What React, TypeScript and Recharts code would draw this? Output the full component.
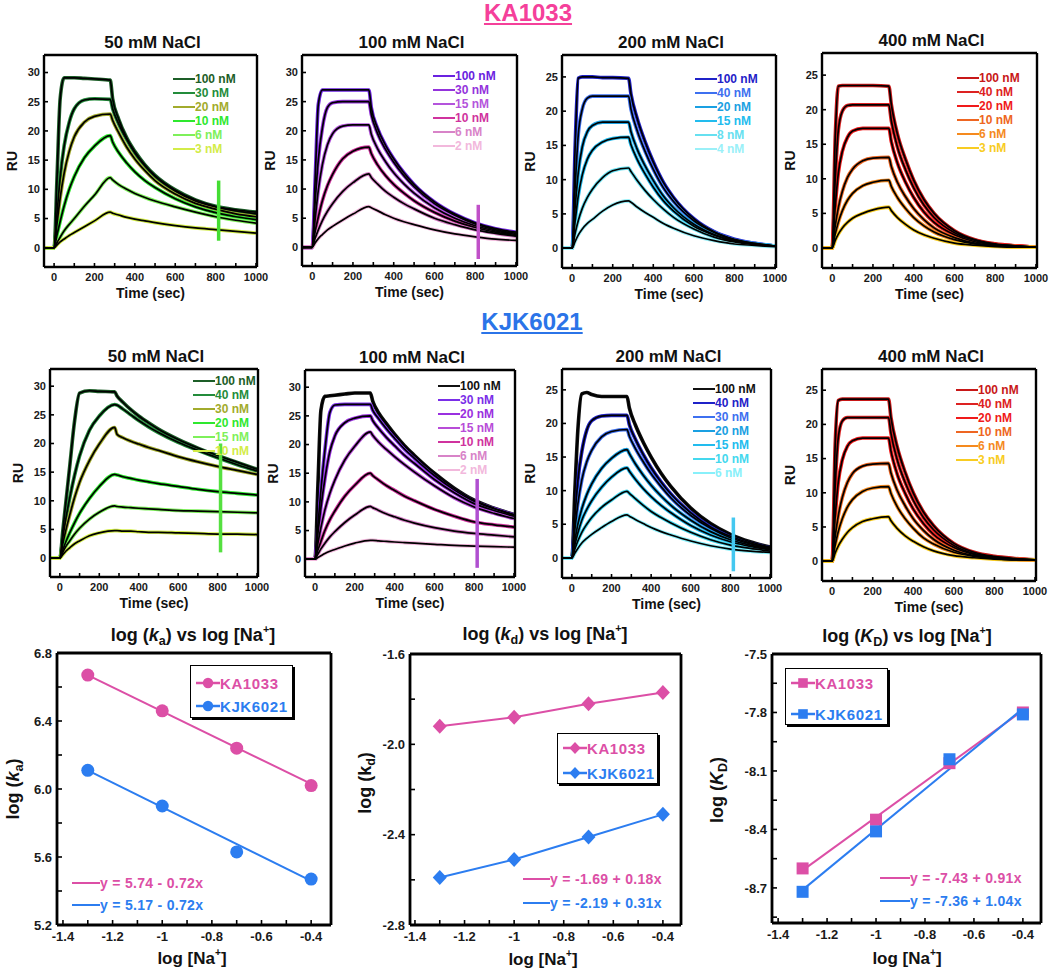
import React from "react"
import { LineChart, Line, XAxis, YAxis, ReferenceLine, Legend, ComposedChart, Scatter } from "recharts"

const FONT = '"Liberation Sans", Arial, Helvetica, sans-serif'
const PINK = "#dc4fa6"
const BLUE = "#2c7df0"

// shared time grid of the sensorgrams (sec)
const time = [-50, 0, 15, 30, 50, 75, 100, 150, 200, 278, 290, 320, 360, 400, 450, 500, 600, 700, 800, 900, 1000]
const timeTicks = [0, 100, 200, 300, 400, 500, 600, 700, 800, 900, 1000]
const ruTicks30 = [0, 5, 10, 15, 20, 25, 30]
const ruTicks25 = [0, 5, 10, 15, 20, 25]

// ---- KA1033 ----
const ka50Conc = ["100 nM", "30 nM", "20 nM", "10 nM", "6 nM", "3 nM"]
const ka50RU = [
  [0, 0, 12.5, 25.5, 29.1, 29.1, 29.1, 29.0, 28.9, 28.7, 25.5, 22.0, 18.8, 16.5, 14.2, 12.4, 9.9, 8.2, 7.1, 6.5, 6.1],
  [0, 0, 6.0, 12.0, 17.5, 21.5, 23.8, 25.3, 25.5, 25.4, 23.8, 21.2, 18.5, 16.2, 14.0, 12.2, 9.7, 8.0, 7.0, 6.3, 5.8],
  [0, 0, 4.3, 8.5, 12.8, 16.5, 19.0, 21.5, 22.5, 22.9, 21.8, 19.7, 17.2, 15.2, 13.2, 11.5, 9.2, 7.6, 6.6, 5.8, 5.3],
  [0, 0, 2.3, 4.5, 7.2, 10.0, 12.2, 15.4, 17.4, 19.2, 18.1, 16.3, 14.5, 13.0, 11.5, 10.3, 8.4, 7.0, 6.0, 5.3, 4.8],
  [0, 0, 0.9, 1.8, 2.9, 4.0, 5.0, 7.1, 9.0, 12.0, 11.6, 10.8, 10.0, 9.3, 8.6, 8.0, 7.0, 6.1, 5.3, 4.7, 4.2],
  [0, 0, 0.5, 1.0, 1.5, 2.1, 2.6, 3.6, 4.6, 6.1, 5.9, 5.6, 5.2, 4.9, 4.6, 4.3, 3.8, 3.4, 3.1, 2.8, 2.5],
]
const ka50Spike = [1.2, 11.5]

const ka100Conc = ["100 nM", "30 nM", "15 nM", "10 nM", "6 nM", "2 nM"]
const ka100RU = [
  [0, 0, 12, 24.5, 27, 27, 27, 27, 27, 27, 24, 20.5, 17.5, 15.2, 12.8, 10.8, 7.8, 5.7, 4.2, 3.2, 2.6],
  [0, 0, 8, 15, 20.5, 24, 24.8, 25, 25, 25, 22.8, 19.6, 16.8, 14.6, 12.3, 10.4, 7.5, 5.5, 4.0, 3.0, 2.4],
  [0, 0, 5, 9.8, 14.2, 17.6, 19.5, 20.8, 21, 21, 19.4, 17, 14.7, 12.8, 10.9, 9.3, 6.8, 5.0, 3.7, 2.8, 2.2],
  [0, 0, 2.8, 5.2, 8, 10.6, 12.5, 15.2, 16.5, 17.2, 16.1, 14.2, 12.3, 10.8, 9.3, 8.0, 6.0, 4.5, 3.4, 2.6, 2.0],
  [0, 0, 1.6, 3.0, 4.6, 6.2, 7.5, 9.6, 11.1, 12.6, 12.0, 10.9, 9.6, 8.6, 7.5, 6.6, 5.0, 3.9, 3.0, 2.4, 1.9],
  [0, 0, 0.8, 1.5, 2.2, 3.0, 3.6, 4.7, 5.7, 7.0, 6.8, 6.3, 5.6, 5.0, 4.4, 3.9, 3.0, 2.3, 1.8, 1.4, 1.2],
]
const ka100Spike = [-2, 7.3]

const ka200Conc = ["100 nM", "40 nM", "20 nM", "15 nM", "8 nM", "4 nM"]
const ka200RU = [
  [0, 0, 15, 24.8, 25, 25, 25, 24.9, 24.9, 24.8, 22.5, 19, 15.5, 12.6, 9.6, 7.4, 4.3, 2.4, 1.3, 0.7, 0.3],
  [0, 0, 9, 16.5, 20.3, 21.9, 22.2, 22.2, 22.2, 22.2, 20.3, 17.2, 14.1, 11.5, 8.8, 6.8, 4.0, 2.3, 1.2, 0.7, 0.3],
  [0, 0, 6, 11, 14.8, 17, 17.9, 18.4, 18.4, 18.4, 17, 14.5, 12, 9.9, 7.6, 5.9, 3.5, 2, 1.1, 0.6, 0.3],
  [0, 0, 4, 7.6, 10.7, 13, 14.3, 15.5, 16, 16.2, 15.1, 13, 10.8, 8.9, 6.9, 5.4, 3.2, 1.9, 1, 0.6, 0.3],
  [0, 0, 2.2, 4, 5.8, 7.4, 8.6, 10.3, 11.3, 11.7, 11.2, 9.9, 8.4, 7.1, 5.7, 4.5, 2.8, 1.6, 0.9, 0.5, 0.3],
  [0, 0, 1, 1.9, 2.8, 3.6, 4.2, 5.4, 6.3, 6.9, 6.7, 6, 5.2, 4.5, 3.6, 2.9, 1.8, 1.1, 0.6, 0.4, 0.2],
]
const ka200Spike = [-3, 4.5]

const ka400Conc = ["100 nM", "40 nM", "20 nM", "10 nM", "6 nM", "3 nM"]
const ka400RU = [
  [0, 0, 16, 23.4, 23.5, 23.5, 23.5, 23.5, 23.5, 23.4, 20.8, 16.5, 12.8, 9.8, 7, 5, 2.5, 1.2, 0.6, 0.3, 0.1],
  [0, 0, 10, 17, 19.8, 20.6, 20.7, 20.7, 20.7, 20.7, 18.4, 14.6, 11.3, 8.7, 6.2, 4.4, 2.2, 1.1, 0.5, 0.3, 0.1],
  [0, 0, 6, 10.8, 14, 16, 16.9, 17.3, 17.3, 17.3, 15.4, 12.3, 9.5, 7.3, 5.2, 3.7, 1.9, 0.9, 0.5, 0.3, 0.1],
  [0, 0, 3.2, 5.8, 8.2, 10.2, 11.4, 12.6, 13, 13.1, 11.8, 9.5, 7.4, 5.7, 4.1, 2.9, 1.5, 0.7, 0.4, 0.2, 0.1],
  [0, 0, 2, 3.7, 5.4, 6.9, 7.9, 9, 9.5, 9.8, 8.9, 7.3, 5.7, 4.4, 3.2, 2.3, 1.2, 0.6, 0.3, 0.2, 0.1],
  [0, 0, 1.1, 2, 2.9, 3.7, 4.3, 5, 5.5, 5.9, 5.4, 4.4, 3.4, 2.6, 1.9, 1.4, 0.7, 0.4, 0.2, 0.1, 0.1],
]
const ka400Spike = [-3, 3.6]

// ---- KJK6021 ----
const kjk50Conc = ["100 nM", "40 nM", "30 nM", "20 nM", "15 nM", "10 nM"]
const kjk50RU = [
  [0, 0, 4.8, 9.6, 16, 24, 28.8, 29.2, 29.1, 29.0, 28.3, 27.2, 25.9, 24.8, 23.6, 22.5, 20.7, 19.2, 17.9, 16.7, 15.5],
  [0, 0, 3.5, 6.8, 10.5, 14.5, 17.8, 22.3, 24.8, 26.8, 26.7, 26.0, 25.0, 24.0, 22.9, 21.9, 20.2, 18.8, 17.5, 16.3, 15.2],
  [0, 0, 2.5, 4.8, 7.5, 10.6, 13.2, 17, 19.9, 22.8, 21.6, 21, 20.4, 19.9, 19.3, 18.8, 17.7, 16.8, 16, 15.3, 14.6],
  [0, 0, 1.4, 2.8, 4.4, 6.2, 7.8, 10.4, 12.5, 14.6, 14.5, 14.2, 13.9, 13.6, 13.3, 13, 12.5, 12, 11.6, 11.3, 11],
  [0, 0, 1, 2, 3, 4.2, 5.2, 6.8, 8, 9.1, 9, 8.9, 8.8, 8.7, 8.6, 8.5, 8.3, 8.2, 8.1, 8, 7.9],
  [0, 0, 0.6, 1.2, 1.8, 2.5, 3, 3.9, 4.4, 4.8, 4.8, 4.7, 4.7, 4.6, 4.5, 4.5, 4.4, 4.3, 4.2, 4.2, 4.1],
]
const kjk50Spike = [1, 20]

const kjk100Conc = ["100 nM", "30 nM", "20 nM", "15 nM", "10 nM", "6 nM", "2 nM"]
const kjk100RU = [
  [0, 0, 13, 26, 28.4, 28.5, 28.6, 28.8, 29, 29, 27.6, 25.5, 23.6, 21.8, 19.8, 18.1, 15, 12.4, 10.3, 8.9, 7.8],
  [0, 0, 6, 12, 19, 25.6, 26.9, 27, 27, 27, 26, 24.5, 22.7, 21.1, 19.2, 17.6, 14.6, 12.1, 10.1, 8.8, 7.7],
  [0, 0, 4.5, 9, 14, 18.8, 21.5, 23.8, 24.6, 25, 24.2, 22.8, 21.2, 19.8, 18.1, 16.7, 13.9, 11.6, 9.7, 8.5, 7.5],
  [0, 0, 2.8, 5.5, 8.6, 11.5, 13.8, 17.3, 19.7, 22.2, 21.6, 20.4, 19.1, 17.9, 16.5, 15.2, 12.8, 10.7, 9.1, 8, 7.1],
  [0, 0, 1.6, 3.1, 5, 6.9, 8.4, 11, 12.9, 15, 14.6, 13.8, 12.8, 12, 11, 10.2, 8.7, 7.5, 6.5, 6, 5.6],
  [0, 0, 0.9, 1.8, 2.8, 3.9, 4.8, 6.4, 7.7, 9.2, 9, 8.5, 7.9, 7.4, 6.8, 6.3, 5.5, 4.9, 4.5, 4.2, 3.9],
  [0, 0, 0.3, 0.6, 1, 1.4, 1.7, 2.3, 2.8, 3.3, 3.3, 3.2, 3.1, 3, 2.9, 2.8, 2.6, 2.4, 2.3, 2.2, 2.1],
]
const kjk100Spike = [-1.5, 14]

const kjk200Conc = ["100 nM", "40 nM", "30 nM", "20 nM", "15 nM", "10 nM", "6 nM"]
const kjk200RU = [
  [0, 0, 10, 19, 24.4, 24.6, 24.3, 24, 24, 24, 22.3, 19.8, 17.2, 15, 12.6, 10.6, 7.4, 5.1, 3.5, 2.4, 1.6],
  [0, 0, 6, 11.5, 15.8, 19, 20.4, 21.1, 21.2, 21.2, 19.8, 17.7, 15.4, 13.4, 11.3, 9.5, 6.7, 4.6, 3.2, 2.2, 1.5],
  [0, 0, 4.2, 8, 11.6, 14.3, 16, 18, 18.8, 19.1, 18.1, 16.3, 14.3, 12.5, 10.6, 8.9, 6.3, 4.4, 3, 2.1, 1.4],
  [0, 0, 2.6, 5, 7.3, 9.4, 11, 13.3, 14.8, 16.1, 15.5, 14, 12.3, 10.8, 9.2, 7.8, 5.6, 3.9, 2.7, 1.9, 1.3],
  [0, 0, 1.9, 3.7, 5.6, 7.2, 8.5, 10.5, 12, 13.4, 12.9, 11.7, 10.3, 9.1, 7.8, 6.7, 4.8, 3.4, 2.4, 1.7, 1.2],
  [0, 0, 1.3, 2.5, 3.8, 5, 6, 7.5, 8.6, 9.9, 9.6, 8.8, 7.8, 6.9, 6, 5.2, 3.8, 2.7, 1.9, 1.4, 1],
  [0, 0, 0.7, 1.4, 2.2, 2.9, 3.5, 4.5, 5.4, 6.4, 6.2, 5.7, 5.1, 4.5, 3.9, 3.4, 2.5, 1.8, 1.3, 1, 0.8],
]
const kjk200Spike = [-2, 6]

const kjk400Conc = ["100 nM", "40 nM", "20 nM", "10 nM", "6 nM", "3 nM"]
const kjk400RU = [
  [0, 0, 17, 23.5, 23.7, 23.7, 23.7, 23.7, 23.7, 23.7, 21, 16.8, 13, 10, 7.2, 5.2, 2.6, 1.3, 0.7, 0.4, 0.2],
  [0, 0, 11, 18, 20.5, 21, 21, 21, 21, 21, 18.7, 14.9, 11.5, 8.9, 6.4, 4.6, 2.3, 1.1, 0.6, 0.3, 0.2],
  [0, 0, 6.5, 11.5, 14.8, 16.8, 17.6, 18, 18, 18, 16.1, 12.8, 9.9, 7.6, 5.5, 3.9, 2, 1, 0.5, 0.3, 0.2],
  [0, 0, 3.6, 6.6, 9.3, 11.5, 12.8, 13.9, 14.2, 14.3, 12.9, 10.4, 8.1, 6.2, 4.5, 3.2, 1.6, 0.8, 0.4, 0.3, 0.2],
  [0, 0, 2.3, 4.3, 6.2, 7.9, 9, 10.2, 10.7, 10.9, 9.9, 8, 6.2, 4.8, 3.4, 2.5, 1.3, 0.7, 0.4, 0.2, 0.2],
  [0, 0, 1.2, 2.2, 3.2, 4.2, 4.9, 5.8, 6.2, 6.5, 5.9, 4.8, 3.7, 2.9, 2.1, 1.5, 0.8, 0.5, 0.3, 0.2, 0.2],
]
const kjk400Spike = [-3, 4]

// ---- rate constants vs log [Na+] ----
const logNa = [-1.3, -1, -0.7, -0.4]
const fitX = [-1.3, -0.4]
const kaKA1033 = [6.67, 6.46, 6.24, 6.02]
const kaKJK6021 = [6.11, 5.9, 5.63, 5.47]
const kaFitKA1033 = [6.67, 6.03]
const kaFitKJK6021 = [6.11, 5.46]
const kdKA1033 = [-1.92, -1.88, -1.82, -1.77]
const kdKJK6021 = [-2.59, -2.51, -2.41, -2.31]
const KDKA1033 = [-8.6, -8.35, -8.06, -7.8]
const KDKJK6021 = [-8.72, -8.41, -8.04, -7.81]
const KDFitKA1033 = [-8.61, -7.79]
const KDFitKJK6021 = [-8.71, -7.78]
const naTicks = [-1.4, -1.3, -1.2, -1.1, -1, -0.9, -0.8, -0.7, -0.6, -0.5, -0.4]
const naMajor = [-1.4, -1.2, -1, -0.8, -0.6, -0.4]
const kaTicks = [5.2, 5.4, 5.6, 5.8, 6.0, 6.2, 6.4, 6.6, 6.8]
const kaMajor = [5.2, 5.6, 6.0, 6.4, 6.8]
const kdTicks = [-2.8, -2.6, -2.4, -2.2, -2.0, -1.8, -1.6]
const kdMajor = [-2.8, -2.4, -2.0, -1.6]
const KDTicks = [-8.85, -8.7, -8.55, -8.4, -8.25, -8.1, -7.95, -7.8, -7.65, -7.5]
const KDMajor = [-8.7, -8.4, -8.1, -7.8, -7.5]
const kaEq = ["y = 5.74 - 0.72x", "y = 5.17 - 0.72x"]
const kdEq = ["y = -1.69 + 0.18x", "y = -2.19 + 0.31x"]
const KDEq = ["y = -7.43 + 0.91x", "y = -7.36 + 1.04x"]

const greens = ["#1d5e28", "#238c3b", "#a2ab2c", "#2ee82e", "#7ef05a", "#d3ec48"]
const purplesKA = ["#6a22e0", "#9433dc", "#b454dc", "#d0339e", "#d883c8", "#f2b8dc"]
const bluesKA = ["#1f22c8", "#3d70f0", "#1aa0e2", "#22bcee", "#66e0f0", "#9af0f8"]
const reds = ["#c81818", "#dd2222", "#f01a1a", "#ee6622", "#f58a1e", "#f8cc22"]
const purplesKJK = ["#111111", "#7a2ee8", "#9a30e0", "#b84cd8", "#d0339e", "#d883c8", "#f2b8dc"]
const bluesKJK = ["#111111", "#1f22c8", "#3d70f0", "#1aa0e2", "#22bcee", "#44d8ee", "#88f0fa"]

type Panel = {
  title: string
  rect: [number, number, number, number]
  yDomain: [number, number]
  yTicks: number[]
  conc: string[]
  colors: string[]
  ru: number[][]
  spike: number[]
  spikeColor: string
  legendAt: [number, number]
}

const panels: Panel[] = [
  { title: "50 mM NaCl", rect: [44, 55, 257, 267], yDomain: [-3.3, 33], yTicks: ruTicks30, conc: ka50Conc, colors: greens, ru: ka50RU, spike: ka50Spike, spikeColor: "#44dd33", legendAt: [173, 79] },
  { title: "100 mM NaCl", rect: [302, 55, 517, 266], yDomain: [-3.2, 33], yTicks: ruTicks30, conc: ka100Conc, colors: purplesKA, ru: ka100RU, spike: ka100Spike, spikeColor: "#c050c8", legendAt: [433, 76] },
  { title: "200 mM NaCl", rect: [562, 55, 776, 268], yDomain: [-2.9, 28.2], yTicks: ruTicks25, conc: ka200Conc, colors: bluesKA, ru: ka200RU, spike: ka200Spike, spikeColor: "#55ddee", legendAt: [695, 79] },
  { title: "400 mM NaCl", rect: [822, 53, 1037, 268], yDomain: [-2.9, 28.2], yTicks: ruTicks25, conc: ka400Conc, colors: reds, ru: ka400RU, spike: ka400Spike, spikeColor: "#f8c020", legendAt: [957, 78] },
  { title: "50 mM NaCl", rect: [50, 369, 258, 577], yDomain: [-3.3, 33], yTicks: ruTicks30, conc: kjk50Conc, colors: greens, ru: kjk50RU, spike: kjk50Spike, spikeColor: "#55e040", legendAt: [193, 381] },
  { title: "100 mM NaCl", rect: [305, 370, 515, 577], yDomain: [-3.1, 33], yTicks: ruTicks30, conc: kjk100Conc, colors: purplesKJK, ru: kjk100RU, spike: kjk100Spike, spikeColor: "#b050d0", legendAt: [438, 386] },
  { title: "200 mM NaCl", rect: [562, 369, 771, 578], yDomain: [-3.0, 28.1], yTicks: ruTicks25, conc: kjk200Conc, colors: bluesKJK, ru: kjk200RU, spike: kjk200Spike, spikeColor: "#44c8f0", legendAt: [693, 389] },
  { title: "400 mM NaCl", rect: [822, 369, 1036, 581], yDomain: [-2.9, 28.1], yTicks: ruTicks25, conc: kjk400Conc, colors: reds, ru: kjk400RU, spike: kjk400Spike, spikeColor: "#f5a020", legendAt: [956, 390] },
]

const frame = { stroke: "#000", strokeWidth: 2.4 }
const tickLine = { stroke: "#000", strokeWidth: 1.6 }
const tickFont = { fontSize: 11, fontWeight: 700, fill: "#1a1a1a" }

function ConcLegend({ conc, colors }: { conc: string[]; colors: string[] }) {
  return (
    <div style={{ fontFamily: FONT }}>
      {conc.map((c, j) => (
        <div key={c} style={{ display: "flex", alignItems: "center", height: 14, whiteSpace: "nowrap" }}>
          <div style={{ width: 22, height: 2.5, background: colors[j] }} />
          <div style={{ color: colors[j], fontSize: 12, fontWeight: 700, lineHeight: "14px" }}>{c}</div>
        </div>
      ))}
    </div>
  )
}

function Sensorgram({ p }: { p: Panel }) {
  const [x0, y0, x1, y1] = p.rect
  const left = x0 - 44
  const top = y0 - 6
  const rows = time.map((t, i) => {
    const r: Record<string, number> = { t }
    p.ru.forEach((s, j) => { r["c" + j] = s[i] })
    return r
  })
  return (
    <>
      <div style={{ position: "absolute", left: (x0 + x1) / 2 - 100 + 2, top: y0 - 22, width: 200, textAlign: "center", fontSize: 17, fontWeight: 700, lineHeight: "20px" }}>
        {p.title}
      </div>
      <div style={{ position: "absolute", left, top }}>
        <LineChart width={x1 - x0 + 58} height={y1 - y0 + 44} data={rows} margin={{ top: 5, right: 13, left: 4, bottom: 2 }}>
          <XAxis dataKey="t" type="number" domain={[-50, 1005]} allowDataOverflow ticks={timeTicks} interval={0}
            tickFormatter={(v: number) => (v % 200 === 0 ? String(v) : "")}
            height={36} tickSize={-4} tickMargin={10} tick={tickFont} axisLine={frame} tickLine={tickLine}
            label={{ value: "Time (sec)", position: "insideBottom", offset: 5, style: { fontSize: 14, fontWeight: 700, fill: "#111" } }} />
          <XAxis xAxisId="top" orientation="top" type="number" domain={[-50, 1005]} allowDataOverflow ticks={timeTicks} interval={0}
            height={1} tickSize={-4} tick={false} axisLine={frame} tickLine={tickLine} />
          <YAxis type="number" domain={p.yDomain} allowDataOverflow ticks={p.yTicks} width={40} interval={0}
            tickSize={-4} tickMargin={8} tick={tickFont} axisLine={frame} tickLine={tickLine}
            label={{ value: "RU", angle: -90, position: "insideLeft", offset: 8, style: { textAnchor: "middle", fontSize: 14, fontWeight: 700, fill: "#111" } }} />
          <YAxis yAxisId="right" orientation="right" type="number" domain={p.yDomain} allowDataOverflow ticks={p.yTicks} interval={0}
            width={1} tickSize={-4} tick={false} axisLine={frame} tickLine={tickLine} />
          {p.conc.map((c, j) => (
            <Line key={c} dataKey={"c" + j} name={c} type="monotone" stroke={p.colors[j]} strokeWidth={3.6}
              dot={false} isAnimationActive={false} />
          ))}
          {p.conc.map((c, j) => (
            <Line key={"fit" + c} dataKey={"c" + j} name={"fit " + c} legendType="none" type="monotone" stroke="#000"
              strokeWidth={1.7} dot={false} isAnimationActive={false} />
          ))}
          <ReferenceLine segment={[{ x: 815, y: p.spike[0] }, { x: 815, y: p.spike[1] }]} stroke={p.spikeColor} strokeWidth={3.5} />
          <Legend layout="vertical" align="center" verticalAlign="middle"
            wrapperStyle={{ left: p.legendAt[0] - left, top: p.legendAt[1] - 7 - top }}
            content={() => <ConcLegend conc={p.conc} colors={p.colors} />} />
        </LineChart>
      </div>
    </>
  )
}

type Marker = "circle" | "diamond" | "square"

function drawMarker(kind: Marker, color: string, cx: number, cy: number, s = 1) {
  if (kind === "circle") return <circle cx={cx} cy={cy} r={6.5 * s} fill={color} />
  if (kind === "diamond") return <path d={`M${cx},${cy - 7.5 * s}L${cx + 7 * s},${cy}L${cx},${cy + 7.5 * s}L${cx - 7 * s},${cy}Z`} fill={color} />
  return <rect x={cx - 6 * s} y={cy - 6 * s} width={12 * s} height={12 * s} fill={color} />
}

type RateSeries = { name: string; color: string; y: number[]; lineX: number[]; lineY: number[] }

type RateCfg = {
  rect: [number, number, number, number]
  xDomain: [number, number]
  yDomain: [number, number]
  yTicks: number[]
  yMajor: number[]
  marker: Marker
  series: RateSeries[]
  title: React.ReactNode
  yLabel: React.ReactNode
  titleAt: [number, number]
  xLabelAt: [number, number]
  yLabelAt: [number, number]
  box: [number, number, number, number]
  boxRows: number[]
  eq: string[]
  eqLine: [number, number]
  eqRows: number[]
}

const sub = (t: string) => <sub style={{ fontSize: "0.7em", verticalAlign: "-0.35em", lineHeight: 0 }}>{t}</sub>
const naLabel = <span>log [Na<sup style={{ fontSize: "0.6em", verticalAlign: "0.75em", lineHeight: 0 }}>+</sup>]</span>

const rateCharts: RateCfg[] = [
  {
    rect: [57, 653, 330, 925], xDomain: [-1.424, -0.32], yDomain: [5.2, 6.8], yTicks: kaTicks, yMajor: kaMajor, marker: "circle",
    series: [
      { name: "KA1033", color: PINK, y: kaKA1033, lineX: fitX, lineY: kaFitKA1033 },
      { name: "KJK6021", color: BLUE, y: kaKJK6021, lineX: fitX, lineY: kaFitKJK6021 },
    ],
    title: <span>log (<i>k</i>{sub("a")}) vs {naLabel}</span>,
    yLabel: <span>log (<i>k</i>{sub("a")})</span>,
    titleAt: [193, 635], xLabelAt: [192, 959], yLabelAt: [13, 789],
    box: [190, 665, 103, 53], boxRows: [17, 40], eq: kaEq, eqLine: [72, 28], eqRows: [883, 905],
  },
  {
    rect: [410, 654, 680, 925], xDomain: [-1.42, -0.327], yDomain: [-2.8, -1.6], yTicks: kdTicks, yMajor: kdMajor, marker: "diamond",
    series: [
      { name: "KA1033", color: PINK, y: kdKA1033, lineX: logNa, lineY: kdKA1033 },
      { name: "KJK6021", color: BLUE, y: kdKJK6021, lineX: logNa, lineY: kdKJK6021 },
    ],
    title: <span>log (<i>k</i>{sub("d")}) vs {naLabel}</span>,
    yLabel: <span>log (k{sub("d")})</span>,
    titleAt: [545, 634], xLabelAt: [543, 960], yLabelAt: [365, 783],
    box: [557, 733, 101, 51], boxRows: [14, 39], eq: kdEq, eqLine: [523, 27], eqRows: [879, 903],
  },
  {
    rect: [772, 654, 1040, 923], xDomain: [-1.425, -0.326], yDomain: [-8.88, -7.5], yTicks: KDTicks, yMajor: KDMajor, marker: "square",
    series: [
      { name: "KA1033", color: PINK, y: KDKA1033, lineX: fitX, lineY: KDFitKA1033 },
      { name: "KJK6021", color: BLUE, y: KDKJK6021, lineX: fitX, lineY: KDFitKJK6021 },
    ],
    title: <span>log (<i>K</i>{sub("D")}) vs {naLabel}</span>,
    yLabel: <span>log (<i>K</i>{sub("D")})</span>,
    titleAt: [907, 636], xLabelAt: [907, 959], yLabelAt: [717, 790],
    box: [785, 668, 103, 57], boxRows: [14, 45], eq: KDEq, eqLine: [880, 30], eqRows: [878, 901],
  },
]

function RateChart({ c }: { c: RateCfg }) {
  const [x0, y0, x1, y1] = c.rect
  const left = x0 - 44
  const top = y0 - 8
  const rtick = { fontSize: 13, fontWeight: 700, fill: "#1a1a1a" }
  const edge = { stroke: "#000", strokeWidth: 2.8 }
  return (
    <>
      <div style={{ position: "absolute", left: c.titleAt[0] - 150, top: c.titleAt[1] - 11, width: 300, height: 22, textAlign: "center", fontSize: 18, fontWeight: 700, lineHeight: "22px" }}>
        {c.title}
      </div>
      <div style={{ position: "absolute", left: c.xLabelAt[0] - 100, top: c.xLabelAt[1] - 9, width: 200, height: 18, textAlign: "center", fontSize: 17, fontWeight: 700, lineHeight: "18px" }}>
        {naLabel}
      </div>
      <div style={{ position: "absolute", left: c.yLabelAt[0] - 70, top: c.yLabelAt[1] - 11, width: 140, height: 22, textAlign: "center", fontSize: 18, fontWeight: 700, lineHeight: "22px", transform: "rotate(-90deg)" }}>
        {c.yLabel}
      </div>
      <div style={{ position: "absolute", left, top }}>
        <ComposedChart width={x1 - x0 + 60} height={y1 - y0 + 40} margin={{ top: 7, right: 14, left: 4, bottom: 2 }}>
          <XAxis dataKey="x" type="number" domain={c.xDomain} allowDataOverflow ticks={naTicks} interval={0}
            tickFormatter={(v: number) => (naMajor.includes(v) ? String(v) : "")}
            height={30} tickSize={-5} tickMargin={12} tick={rtick} axisLine={edge} tickLine={tickLine} />
          <XAxis xAxisId="top" orientation="top" type="number" domain={c.xDomain} allowDataOverflow ticks={naTicks} interval={0}
            height={1} tickSize={-5} tick={false} axisLine={edge} tickLine={tickLine} />
          <YAxis dataKey="y" type="number" domain={c.yDomain} allowDataOverflow ticks={c.yTicks} interval={0}
            tickFormatter={(v: number) => (c.yMajor.includes(v) ? v.toFixed(1) : "")}
            width={40} tickSize={-5} tickMargin={10} tick={rtick} axisLine={edge} tickLine={tickLine} />
          <YAxis yAxisId="right" orientation="right" type="number" domain={c.yDomain} allowDataOverflow ticks={c.yTicks} interval={0}
            width={1} tickSize={-5} tick={false} axisLine={edge} tickLine={tickLine} />
          {c.series.map((s) => (
            <Line key={"l" + s.name} data={s.lineX.map((x, i) => ({ x, y: s.lineY[i] }))} dataKey="y" name={s.name}
              type="linear" stroke={s.color} strokeWidth={2} dot={false} isAnimationActive={false} />
          ))}
          {c.series.map((s) => (
            <Scatter key={"s" + s.name} data={logNa.map((x, i) => ({ x, y: s.y[i] }))} dataKey="y" name={s.name}
              fill={s.color} isAnimationActive={false}
              shape={(pp: any) => (pp.cx == null ? <g /> : drawMarker(c.marker, s.color, pp.cx, pp.cy))} />
          ))}
        </ComposedChart>
      </div>
      <div style={{ position: "absolute", left: c.box[0], top: c.box[1], width: c.box[2], height: c.box[3], border: "1px solid #000", boxShadow: "2px 2px 0 #000", background: "#fff", boxSizing: "border-box" }}>
        {c.series.map((s, i) => (
          <div key={s.name} style={{ position: "absolute", left: 5, top: c.boxRows[i] - 10, height: 20, display: "flex", alignItems: "center", whiteSpace: "nowrap" }}>
            <svg width={24} height={16}>
              <line x1={0} y1={8} x2={24} y2={8} stroke={s.color} strokeWidth={2.5} />
              {drawMarker(c.marker, s.color, 12, 8, 0.8)}
            </svg>
            <span style={{ color: s.color, fontSize: 15, fontWeight: 700, letterSpacing: 0.6 }}>{s.name}</span>
          </div>
        ))}
      </div>
      {c.series.map((s, i) => (
        <div key={"eq" + s.name} style={{ position: "absolute", left: c.eqLine[0], top: c.eqRows[i] - 10, height: 20, display: "flex", alignItems: "center", whiteSpace: "nowrap" }}>
          <div style={{ width: c.eqLine[1], height: 2.5, background: s.color }} />
          <span style={{ color: s.color, fontSize: 14, fontWeight: 700, letterSpacing: 0.3 }}>{c.eq[i]}</span>
        </div>
      ))}
    </>
  )
}

function Header({ text, color, cx, top }: { text: string; color: string; cx: number; top: number }) {
  return (
    <div style={{ position: "absolute", left: cx - 100, top, width: 200, height: 26, textAlign: "center", fontSize: 24, fontWeight: 700, lineHeight: "24px", color, textDecoration: "underline", textDecorationThickness: 2, textUnderlineOffset: 2 }}>
      {text}
    </div>
  )
}

export default function App() {
  return (
    <div style={{ position: "absolute", left: 0, top: 0, width: 1050, height: 972, background: "#fff", fontFamily: FONT, color: "#111", overflow: "hidden" }}>
      <Header text="KA1033" color="#f5409a" cx={528} top={1} />
      <Header text="KJK6021" color="#2b74e8" cx={532} top={310} />
      {panels.map((p, i) => <Sensorgram key={i} p={p} />)}
      {rateCharts.map((c, i) => <RateChart key={i} c={c} />)}
    </div>
  )
}
